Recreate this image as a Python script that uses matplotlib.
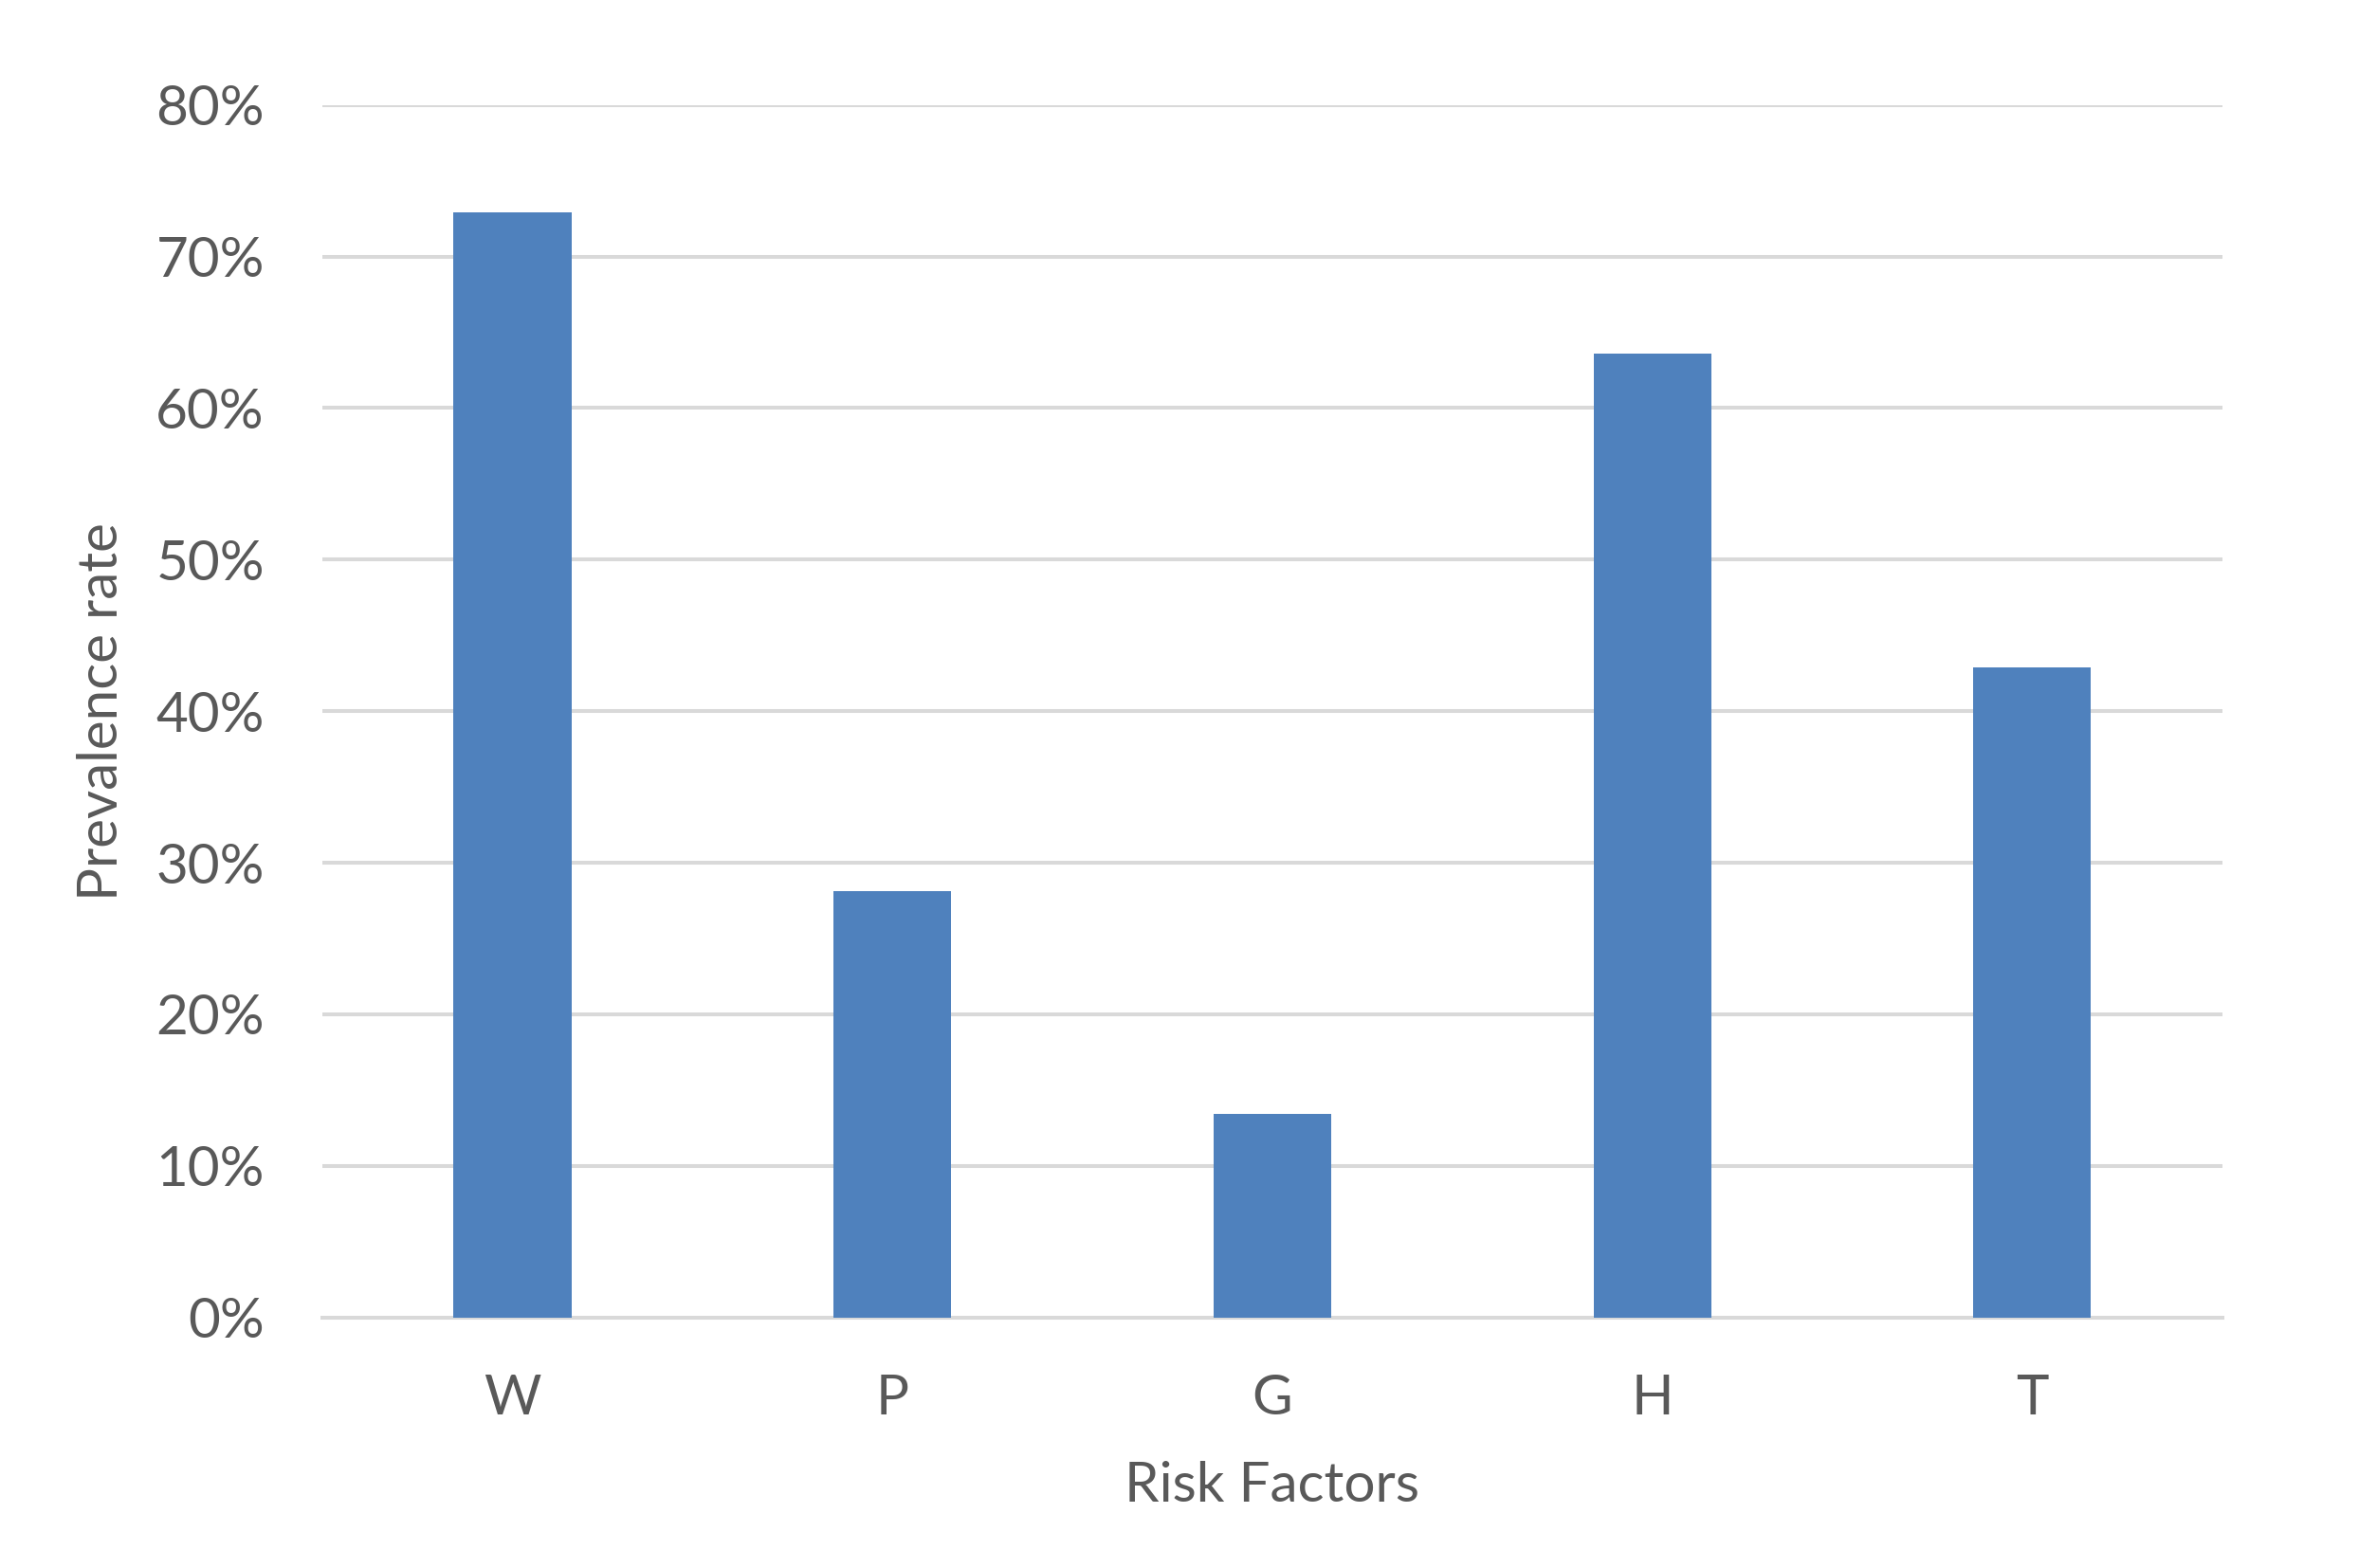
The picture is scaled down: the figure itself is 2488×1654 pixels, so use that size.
import matplotlib.pyplot as plt
from matplotlib.ticker import PercentFormatter

categories = ['W', 'P', 'G', 'H', 'T']
prevalence = [72.9, 28.1, 13.4, 63.6, 42.9]
yticks = [0, 10, 20, 30, 40, 50, 60, 70, 80]

plt.rcParams['font.family'] = ['Lato', 'DejaVu Sans']
text_color = '#595959'
grid_color = '#d9d9d9'

fig = plt.figure(figsize=(24.88, 16.54), dpi=100)
ax = fig.add_axes([0.1367, 0.1598, 0.8053, 0.7733])

x = range(len(categories))
ax.bar(x, prevalence, width=0.31, color='#4f81bd', zorder=3)

ax.set_xlim(-0.5, len(categories) - 0.5)
ax.set_ylim(0, 80)
ax.set_yticks(yticks)
ax.yaxis.set_major_formatter(PercentFormatter(decimals=0))
ax.set_xticks(list(x))
ax.set_xticklabels(categories)

ax.grid(axis='y', color=grid_color, linewidth=2.9, zorder=0)
for side in ['top', 'right', 'left']:
    ax.spines[side].set_visible(False)
ax.spines['bottom'].set_color(grid_color)
ax.spines['bottom'].set_linewidth(2.9)

ax.tick_params(axis='both', length=0, labelsize=42, labelcolor=text_color)
ax.tick_params(axis='y', pad=44)
ax.tick_params(axis='x', pad=43)

ax.set_xlabel('Risk Factors', fontsize=42, color=text_color, labelpad=28)
ax.set_ylabel('Prevalence rate', fontsize=42, color=text_color, labelpad=22)

fig.savefig('out.png', dpi=100)
